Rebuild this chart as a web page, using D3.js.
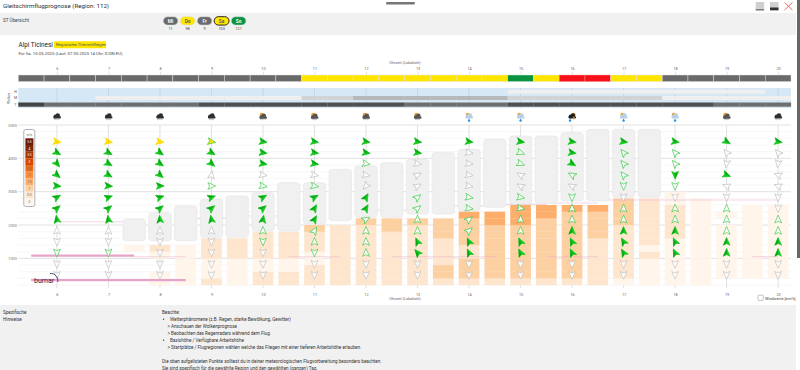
<!DOCTYPE html>
<html lang="de">
<head>
<meta charset="utf-8">
<title>Gleitschirmflugprognose</title>
<script src="https://cdn.jsdelivr.net/npm/d3@7/dist/d3.min.js"></script>
<style>
html,body{margin:0;padding:0;background:#fff;overflow:hidden}
svg{display:block}
text{font-family:Roboto,"Open Sans",sans-serif;fill:#444}
</style>
</head>
<body>
<svg id="c" width="800" height="370"></svg>
<script>
// ---- data ----
const hours = d3.range(6, 21);
const halfHours = d3.range(5.5, 20.5, 0.5);

const statusCells = ["g","g","g","g","g","g","g","g","g","g","g",
  "y","y","y","y","y","y","y","y","G","y","r","r","y","y","g","g","g","g","g"];
const cloudHigh = [0,0,0,0,0,0,0,0,0,0,0,0,0,0,0,0,0,0,0,1,1,1,1,1,1,1,1,1,1,0];
const cloudMid  = [0,0,0,1,1,1,1,1,1,1,1,2,2,3,3,3,3,3,3,2,2,2,2,2,2,1,1,1,1,1];
const cloudLow  = [6,4,4,4,4,4,4,5,5,5,5,5,5,5,5,4,4,4,4,5,5,5,5,5,5,5,5,4,4,4];

const iconTypes = ["rain","rain","rain","rain","sun","sun","sun","sun","drop","drop","storm","drop","drop","sun","rain"];

const windLevels = [4500,4170,3840,3500,3170,2830,2500,2170,1830,1500,1170,830,500];
const windDir = [
 [100,120,140,130, 95, 60, 50,350,  0,180,180,180,180],
 [100,120,120,120, 95, 70, 50,350,  0,180,180,180,180],
 [100,125,125,130, 90, 70, 50,355,  0,180,180,180,180],
 [100,120,130, 10, 90, 70, 50,350,  0,180,180,180,180],
 [100,100,100,100,100, 60, 50, 10,  0,180,180,180,180],
 [100,100,100,100,100, 60, 30, 30, 30,  0,180,180,180],
 [100,100,100,100,220, 30, 30, 60,  0,  0,  0,180,180],
 [100,100,100, 60, 60, 50, 50,  0,  0,335,320,180,180],
 [100,100,100,100,100,100,100, 50, 50,335,335,180,180],
 [100,110,110,300,300,100,100,  0,  0,335,335,180,180],
 [100,100,120,300,300,180,  0,  0,  0,335,335,180,180],
 [100,320,320,320,180,180,  0,  0,  0,330,330,180,180],
 [100,320,320,180,180,180,  0,  0,  0,335,335,180,180],
 [120,320,190,110,290,180,  0,  0,  0,  0,  0,180,180],
 [100,320,190,290,290,180,180,  0,  0,  0,  0,180,180]
];
const windKind = [
 "yfffffffggogg",
 "yfffffffggogg",
 "yfffffffggggg",
 "mffgofffggggg",
 "fffgofffooggg",
 "fffgofffooogg",
 "ffoggffoooogg",
 "ffgggooooffgg",
 "fggggooooffgg",
 "fooggooooffgg",
 "fffogooofffgg",
 "foooogoofffgg",
 "foofogoofffgg",
 "fggfggoooffgg",
 "fggggggooffgg"
];

// climb value per 200 m layer, from 200 m upward; null = no thermal
const n = null;
const climb = {
 7.5:[n,n,n,n,n,0],
 8:[0,0,n,n,0,.5],
 8.5:[0,0,0,0,0,0],
 9:[.5,0,0,0,.5,.5,.5],
 9.5:[0,0,0,0,.5,.5,.5],
 10:[.5,.5,0,0,.5,.5,.5,.5],
 10.5:[.5,.5,0,0,.5,.5,.5,.5],
 11:[.5,.5,.5,0,0,.5,.5,.5,1],
 11.5:[.5,.5,.5,.5,.5,.5,.5,.5,.5],
 12:[.5,.5,.5,.5,.5,.5,.5,.5,.5,1],
 12.5:[.5,.5,.5,.5,.5,.5,.5,.5,1,1],
 13:[.5,.5,.5,.5,.5,.5,.5,.5,.5,1],
 13.5:[.5,1,1,.5,.5,.5,.5,1,1,1],
 14:[.5,1,1,1,.5,.5,1,1,1,1,1.5],
 14.5:[.5,1,1,1,1,1,1,1,1,1.5,1.5],
 15:[.5,1,1,1,1,1,1,1,1,1.5,1.5,1.5],
 15.5:[.5,1,1,1,1,1,1,1,1,1,1.5,1.5],
 16:[.5,1,1,1,1,1,1,1,1,1,1,1.5],
 16.5:[.5,.5,.5,.5,.5,.5,.5,1,1,1,1,1.5],
 17:[0,.5,.5,.5,.5,.5,.5,.5,.5,1,1,1,1],
 17.5:[0,0,0,0,.5,0,.5,.5,.5,.5,.5,.5,.5],
 18:[0,0,0,0,0,0,0,.5,.5,.5,.5,.5,0,0],
 18.5:[0,0,0,0,0,0,0,0,0,0,0,0,0],
 19:[n,0,0,0,0,0,0,0,0,n,0],
 19.5:[n,0,0,0,0,0,0,0,0,0,0,0],
 20:[n,0,0,0,0,0,0,0,0,0,0,0]
};

// cloud block: top and base in metres per half hour
const cloudBlockHours = [7.5,8,8.5,9,9.5,10,10.5,11,11.5,12,12.5,13,13.5,14,14.5,15,15.5,16,16.5,17,17.5];
const cloudTop  = [2180,2370,2570,2770,2870,2970,3270,3270,3670,3770,3870,3970,4170,4270,4570,4670,4670,4770,4870,4870,4870];
const cloudBase = [1530,1530,1530,1630,1630,1830,1830,2030,2130,2230,2230,2330,2330,2430,2530,2630,2650,2730,2730,2830,2830];

const pinkThick = [[5.5,7.5,1080],[5.5,8.5,350]];
const pinkThin = [[6,7.5,2100],[8.5,9.5,2200],[9.5,10.5,2270],[12,13,2450],[13.5,14.5,2570],[14.5,15.5,2620],[15.5,16.5,2660],[16.5,20,2750],
 [7.5,8.5,1050],[10.5,11.5,1050],[12.5,14.5,1050],[15.5,16.5,1050],[19.5,20,1050]];

const legendValues = ["5.5","4","3.5","3","2.5","2","1.5","1","0.5","0"];
const legendColors = ["#6b1a0a","#7f2704","#a63603","#d94801","#f16913","#fd8d3c","#fdae6b","#fdd0a2","#fee6ce","#fff5eb"];

const dayLabels = ["Mi","Do","Fr","Sa","So"];
const dayScores = ["11","98","9","103","121"];
const dayKinds = ["g","y","g","ys","G"];

const noteLines = [
 ["Beachte:",162,312],
 ["Wetterphänomene (z.B. Regen, starke Bewölkung, Gewitter)",170,319],
 ["> Anschauen der Wolkenprognose",167.5,326],
 ["> Beobachten des Regenradars während dem Flug.",167.5,333],
 ["Basishöhe / Verfügbare Arbeitshöhe",170,340],
 ["> Startplätze / Flugregionen wählen welche das Fliegen mit einer tieferen Arbeitshöhe erlauben.",167.5,347.3],
 ["Die oben aufgelisteten Punkte solltest du in deiner meteorologischen Flugvorbereitung besonders beachten.",162,361.3],
 ["Sie sind spezifisch für die gewählte Region und den gewählten (ganzen) Tag.",162,368.3]
];
const noteBullets = [319,340];

// ---- scales ----
const x = d3.scaleLinear().domain([5.25,20.25]).range([18.3,791]);
const y = d3.scaleLinear().domain([0,5000]).range([291.7,125]);
const cellW = x(5.75)-x(5.25);
const colW = 20.7, blockW = 22.3;
const statusColor = d3.scaleOrdinal().domain(["g","y","G","r"]).range(["#6a6a6a","#ffe600","#0a9440","#f5101a"]);
const midColor = d3.scaleOrdinal().domain([0,1,2,3]).range(["none","#efefef","#d2d3d5","#b7b8ba"]);
const lowColor = d3.scaleOrdinal().domain([4,5,6]).range(["#6e6e6e","#4f4f4f","#444444"]);
const climbColor = d3.scaleOrdinal().domain(legendValues).range(legendColors);
const kindFill = {y:"#ffdc00",f:"#14c81e",o:"#fff",g:"#fff",m:"#ffe100"};
const kindStroke = {y:"#ffdc00",f:"#14c81e",o:"#35c843",g:"#bdbdbd",m:"#35c843"};

const svg = d3.select("#c");
const text = (s,px,py,size,fill,anchor) => svg.append("text").attr("x",px).attr("y",py)
  .attr("font-size",size).attr("text-anchor",anchor||"start").style("fill",fill||"#333").text(s);

// ---- panels ----
svg.append("rect").attr("width",800).attr("height",370).attr("fill","#fff");
svg.append("rect").attr("x",0).attr("y",13).attr("width",796).attr("height",22).attr("fill","#f1f1f1");
svg.append("rect").attr("x",0).attr("y",305).attr("width",796).attr("height",65).attr("fill","#f1f1f1");
svg.append("rect").attr("x",797).attr("y",0).attr("width",3).attr("height",258).attr("fill","#666");
svg.append("rect").attr("x",386).attr("y",2).attr("width",29).attr("height",2.6).attr("rx",1.3).attr("fill","#777");

text("Gleitschirmflugprognose (Region: 112)",3,8.4,6.2,"#333");
[755.7,770].forEach((bx,i)=>{
  svg.append("rect").attr("x",bx).attr("y",2).attr("width",8.5).attr("height",8.3).attr("fill","#d0d0d0");
  svg.append("rect").attr("x",bx).attr("y",i?7.5:9.5).attr("width",8.5).attr("height",i?2.8:0.8).attr("fill","#333");
});
svg.append("path").attr("d","M784.5,2.5L792.5,10M792.5,2.5L784.5,10").attr("stroke","#e8403a").attr("stroke-width",0.8).attr("fill","none");

text("ST Übersicht",3,21.5,4.6,"#444");
dayLabels.forEach((d,i)=>{
  const px = 163.2+i*17, k = dayKinds[i];
  svg.append("rect").attr("x",px).attr("y",16.7).attr("width",14.8).attr("height",8.4).attr("rx",4.2)
    .attr("fill",k[0]==="y"?"#ffe600":k==="G"?"#0a9440":"#6a6a6a")
    .attr("stroke",k==="ys"?"#111":"#ddd").attr("stroke-width",k==="ys"?0.9:0.6);
  text(d,px+7.4,22.6,4.8,k[0]==="y"?"#555":"#fff","middle").attr("font-weight",600);
  text(dayScores[i],px+7.4,30,3.8,"#444","middle");
});

text("Alpi Ticinesi",18.5,46.8,6.4,"#222");
svg.append("rect").attr("x",54).attr("y",41.2).attr("width",52).attr("height",7.1).attr("rx",1).attr("fill","#ffe600");
text("Regionales Thermikfliegen",56,46.3,4.25,"#555");
text("Für Sa. 10.05.2025 (Lauf: 07.05.2025 14 Uhr; ICON-EU)",18.5,54.8,4.3,"#444");
text("Uhrzeit (Lokalzeit)",405,63.5,3.9,"#666","middle");
text("Uhrzeit (Lokalzeit)",405,299.5,3.9,"#666","middle");

// ---- top and bottom time axes ----
function styleAxis(g){
  g.select(".domain").remove();
  g.selectAll("text").style("font-size","3.8px").style("fill","#666");
  g.selectAll("line").attr("stroke","#ccc").attr("stroke-width",0.6);
}
svg.append("g").attr("transform","translate(0,74.5)")
  .call(d3.axisTop(x).tickValues(hours).tickFormat(d3.format("d")).tickSize(3).tickPadding(1.5)).call(styleAxis);
svg.append("g").attr("transform","translate(0,289)")
  .call(d3.axisBottom(x).tickValues(hours).tickFormat(d3.format("d")).tickSize(0).tickPadding(4)).call(styleAxis);

// ---- status strip ----
svg.append("g").selectAll("rect").data(statusCells).join("rect")
  .attr("x",(d,i)=>x(halfHours[i]-0.25)).attr("y",75).attr("width",cellW).attr("height",6.6)
  .attr("fill",d=>statusColor(d)).attr("stroke",d=>d==="r"?"#ff9a9a":"#e4e4e4").attr("stroke-width",0.45);

// ---- cloud band ----
svg.append("rect").attr("x",x(5.25)).attr("y",88).attr("width",x(20.25)-x(5.25)).attr("height",20).attr("fill","#d6e7f6");
svg.append("g").selectAll("line").data(hours).join("line")
  .attr("x1",x).attr("x2",x).attr("y1",88).attr("y2",108).attr("stroke","#bccdda").attr("stroke-width",0.6);
const band = (vals,py,h,col)=>svg.append("g").selectAll("rect").data(vals).join("rect")
  .attr("x",(d,i)=>x(halfHours[i]-0.25)).attr("y",py).attr("width",cellW+0.1).attr("height",h).attr("fill",d=>col(d));
band(cloudHigh,89.7,4,d=>d?"#efefef":"none");
band(cloudMid,96,4,midColor);
band(cloudLow,102.5,4.2,lowColor);
text("H",15.6,92.6,3.6,"#555","middle");
text("M",15.6,99.2,3.6,"#555","middle");
text("T",15.6,106,3.6,"#555","middle");
svg.append("text").attr("transform","translate(10,98.5) rotate(-90)").attr("font-size",3.4).attr("text-anchor","middle").style("fill","#555").text("Wolken");

// ---- weather icons ----
function cloud(g,fill,dy){
  g.append("circle").attr("cx",-1.5).attr("cy",dy).attr("r",1.9).attr("fill",fill);
  g.append("circle").attr("cx",0.8).attr("cy",dy-0.9).attr("r",2.3).attr("fill",fill);
  g.append("rect").attr("x",-3.6).attr("y",dy-0.2).attr("width",7.6).attr("height",2.2).attr("rx",1).attr("fill",fill);
}
hours.forEach((h,i)=>{
  const t = iconTypes[i];
  const g = svg.append("g").attr("transform",`translate(${x(h)},116.4)`);
  if(t!=="rain") g.append("circle").attr("cx",t==="storm"?1.6:-1.3).attr("cy",-1.8).attr("r",1.9).attr("fill","#f39a1e");
  cloud(g,t==="drop"?"#b9cfe6":t==="rain"?"#2f2f2f":t==="storm"?"#222":"#555",t==="sun"?0.4:0);
  if(t==="rain"||t==="sun") g.append("path").attr("d","M-2.6,3.2H2.6").attr("stroke","#777").attr("stroke-width",0.7).attr("stroke-dasharray","0.6 0.5");
  if(t==="drop"||t==="storm") g.append("path").attr("d","M0,2.2L1,3.9A1.1,1.1 0 1 1 -1,3.9Z").attr("transform",t==="storm"?"translate(-2,0)":null).attr("fill","#1e90e8");
  if(t==="storm") g.append("path").attr("d","M1.6,0L0.4,2.6H1.6L1,4.4L3,1.8H1.9L2.8,0Z").attr("fill","#f39a1e");
});

// ---- height grid ----
const minor = d3.range(200,5000,200).filter(v=>v%1000);
svg.append("g").selectAll("line").data(minor).join("line")
  .attr("x1",x(5.25)).attr("x2",x(20.25)).attr("y1",y).attr("y2",y).attr("stroke","#f4f4f4").attr("stroke-width",0.7);
const yAxis = svg.append("g").attr("transform",`translate(${x(5.25)},0)`)
  .call(d3.axisLeft(y).tickValues([1000,2000,3000,4000,5000]).tickFormat(d3.format("d")).tickSize(0).tickPadding(1.5));
yAxis.select(".domain").remove();
yAxis.selectAll("text").style("font-size","3.8px").style("fill","#777");
svg.append("g").selectAll("line").data([1000,2000,3000,4000,5000]).join("line")
  .attr("x1",x(5.25)).attr("x2",x(20.25)).attr("y1",y).attr("y2",y).attr("stroke","#dedede").attr("stroke-width",0.9);
svg.append("g").selectAll("line").data(hours).join("line")
  .attr("x1",x).attr("x2",x).attr("y1",125).attr("y2",288).attr("stroke","#dcdcdc").attr("stroke-width",0.9);

// ---- thermal bars ----
const bars = [];
Object.keys(climb).forEach(k=>climb[k].forEach((v,i)=>{ if(v!==null) bars.push({h:+k,lvl:200+i*200,v}); }));
svg.append("g").selectAll("rect").data(bars).join("rect")
  .attr("x",d=>x(d.h)-colW/2).attr("width",colW)
  .attr("y",d=>y(d.lvl+200)).attr("height",y(0)-y(200)+0.1)
  .attr("fill",d=>climbColor(String(d.v)));

// ---- thin and thick pink levels ----
svg.append("g").selectAll("line").data(pinkThin).join("line")
  .attr("x1",d=>x(d[0])).attr("x2",d=>x(d[1])).attr("y1",d=>y(d[2])).attr("y2",d=>y(d[2]))
  .attr("stroke","#e9a6c6").attr("stroke-width",1.1).attr("opacity",0.45);
svg.append("g").selectAll("line").data(pinkThick).join("line")
  .attr("x1",d=>x(d[0])).attr("x2",d=>x(d[1])).attr("y1",d=>y(d[2])).attr("y2",d=>y(d[2]))
  .attr("stroke","#e8a3c8").attr("stroke-width",2.3);

// ---- cloud blocks ----
svg.append("g").selectAll("rect").data(cloudBlockHours).join("rect")
  .attr("x",d=>x(d)-blockW/2).attr("width",blockW)
  .attr("y",(d,i)=>y(cloudTop[i])).attr("height",(d,i)=>y(cloudBase[i])-y(cloudTop[i]))
  .attr("rx",3).attr("fill","#f0f0f0").attr("stroke","#e6e6e6").attr("stroke-width",0.7);

// ---- legend ----
svg.append("rect").attr("x",23.8).attr("y",129.5).attr("width",11).attr("height",77).attr("rx",2)
  .attr("fill","#fff").attr("stroke","#a8a8a8").attr("stroke-width",0.9);
text("m/s",29.3,135.8,3.2,"#666","middle");
legendValues.forEach((v,i)=>{
  const py = 138.3+i*6.67;
  svg.append("rect").attr("x",25.4).attr("y",py).attr("width",8).attr("height",6.7).attr("fill",legendColors[i]);
  text(v,29.4,py+4.6,3.2,i<4?"#fff":"#666","middle");
});

// ---- wind darts ----
const dart = "M0,-4.2L3.4,3.6L0,1.9L-3.4,3.6Z";
const darts = [];
hours.forEach((h,i)=>windLevels.forEach((m,j)=>darts.push({h,m,dir:windDir[i][j],k:windKind[i][j]})));
const dg = svg.append("g").selectAll("g").data(darts).join("g")
  .attr("transform",d=>`translate(${x(d.h)},${y(d.m)}) rotate(${d.dir})`);
dg.append("path").attr("d",dart).attr("fill",d=>kindFill[d.k]).attr("stroke",d=>kindStroke[d.k]).attr("stroke-width",0.65);
dg.filter(d=>d.k==="f").append("path").attr("d","M0,-4.2L0,1.9L-3.4,3.6Z").attr("fill","#0ca81a");

// ---- bumar mark ----
text("bumar",34,283.3,7,"#1f2b54");
svg.append("path").attr("d","M50,273.5A7,7 0 0 1 57.7,282").attr("fill","none").attr("stroke","#1f2b54").attr("stroke-width",0.8);

// ---- wind value toggle ----
svg.append("rect").attr("x",758).attr("y",295.2).attr("width",5.2).attr("height",5.2).attr("rx",0.6).attr("fill","#fff").attr("stroke","#888").attr("stroke-width",0.5);
text("Windwerte [km/h]",765,299.5,3.9,"#444");

// ---- notes ----
text("Spezifische",3,313.8,4.6,"#333");
text("Hinweise",3,320.8,4.6,"#333");
noteLines.forEach(l=>text(l[0],l[1],l[2]+1.7,4.6,"#333"));
noteBullets.forEach(b=>svg.append("circle").attr("cx",163.6).attr("cy",b+0.3).attr("r",0.7).attr("fill","#444"));
</script>
</body>
</html>
